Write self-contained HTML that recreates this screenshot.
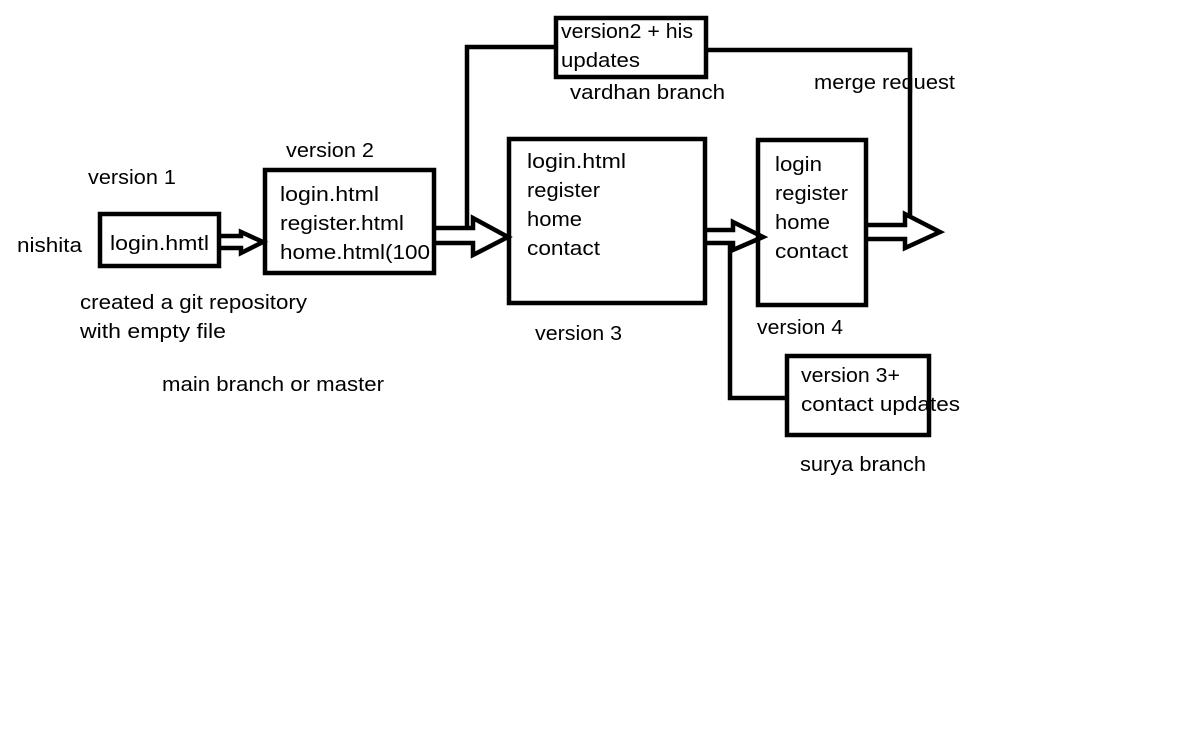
<!DOCTYPE html>
<html><head><meta charset="utf-8"><style>
html,body{margin:0;padding:0;background:#fff;}
svg{display:block;}
text{font-family:"Liberation Sans",sans-serif;font-size:20px;fill:#000;}
</style></head><body>
<svg width="1179" height="736" viewBox="0 0 1179 736" xmlns="http://www.w3.org/2000/svg">
<g fill="none" stroke="#000" stroke-width="4.5" stroke-linejoin="miter">
<rect x="100" y="214" width="119" height="52"/>
<rect x="265" y="170" width="169" height="103"/>
<rect x="556" y="18" width="150" height="59"/>
<rect x="509" y="139" width="196" height="164"/>
<rect x="758" y="140" width="108" height="165"/>
<rect x="787" y="356" width="142" height="79"/>
<polyline points="219,236 241,236 241,232 263,242 241,253 241,248 219,248"/>
<polyline points="434,228 473,228 473,218 508,237 473,255 473,243 434,243"/>
<polyline points="705,230 733,230 733,222 763,237 733,250 733,243 705,243"/>
<polyline points="866,225 905,225 905,214 940,232 905,248 905,239 866,239"/>
<polyline points="467,230 467,47 556,47"/>
<polyline points="706,50 910,50 910,215"/>
<polyline points="730,243 730,398 787,398"/>
</g>
<g lengthAdjust="spacingAndGlyphs">
<text x="110" y="250" textLength="99" lengthAdjust="spacingAndGlyphs">login.hmtl</text>
<text x="280" y="201" textLength="99" lengthAdjust="spacingAndGlyphs">login.html</text>
<text x="280" y="230" textLength="124" lengthAdjust="spacingAndGlyphs">register.html</text>
<text x="280" y="259" textLength="150" lengthAdjust="spacingAndGlyphs">home.html(100</text>
<text x="561" y="38" textLength="132" lengthAdjust="spacingAndGlyphs">version2 + his</text>
<text x="561" y="67" textLength="79" lengthAdjust="spacingAndGlyphs">updates</text>
<text x="527" y="168" textLength="99" lengthAdjust="spacingAndGlyphs">login.html</text>
<text x="527" y="197" textLength="73" lengthAdjust="spacingAndGlyphs">register</text>
<text x="527" y="226" textLength="55" lengthAdjust="spacingAndGlyphs">home</text>
<text x="527" y="255" textLength="73" lengthAdjust="spacingAndGlyphs">contact</text>
<text x="775" y="171" textLength="47" lengthAdjust="spacingAndGlyphs">login</text>
<text x="775" y="200" textLength="73" lengthAdjust="spacingAndGlyphs">register</text>
<text x="775" y="229" textLength="55" lengthAdjust="spacingAndGlyphs">home</text>
<text x="775" y="258" textLength="73" lengthAdjust="spacingAndGlyphs">contact</text>
<text x="801" y="382" textLength="99" lengthAdjust="spacingAndGlyphs">version 3+</text>
<text x="801" y="411" textLength="159" lengthAdjust="spacingAndGlyphs">contact updates</text>
<text x="88" y="184" textLength="88" lengthAdjust="spacingAndGlyphs">version 1</text>
<text x="17" y="252" textLength="65" lengthAdjust="spacingAndGlyphs">nishita</text>
<text x="286" y="157" textLength="88" lengthAdjust="spacingAndGlyphs">version 2</text>
<text x="80" y="309" textLength="227" lengthAdjust="spacingAndGlyphs">created a git repository</text>
<text x="80" y="338" textLength="146" lengthAdjust="spacingAndGlyphs">with empty file</text>
<text x="162" y="391" textLength="222" lengthAdjust="spacingAndGlyphs">main branch or master</text>
<text x="535" y="340" textLength="87" lengthAdjust="spacingAndGlyphs">version 3</text>
<text x="570" y="99" textLength="155" lengthAdjust="spacingAndGlyphs">vardhan branch</text>
<text x="814" y="89" textLength="141" lengthAdjust="spacingAndGlyphs">merge request</text>
<text x="757" y="334" textLength="86" lengthAdjust="spacingAndGlyphs">version 4</text>
<text x="800" y="471" textLength="126" lengthAdjust="spacingAndGlyphs">surya branch</text>
</g>
</svg>
</body></html>
